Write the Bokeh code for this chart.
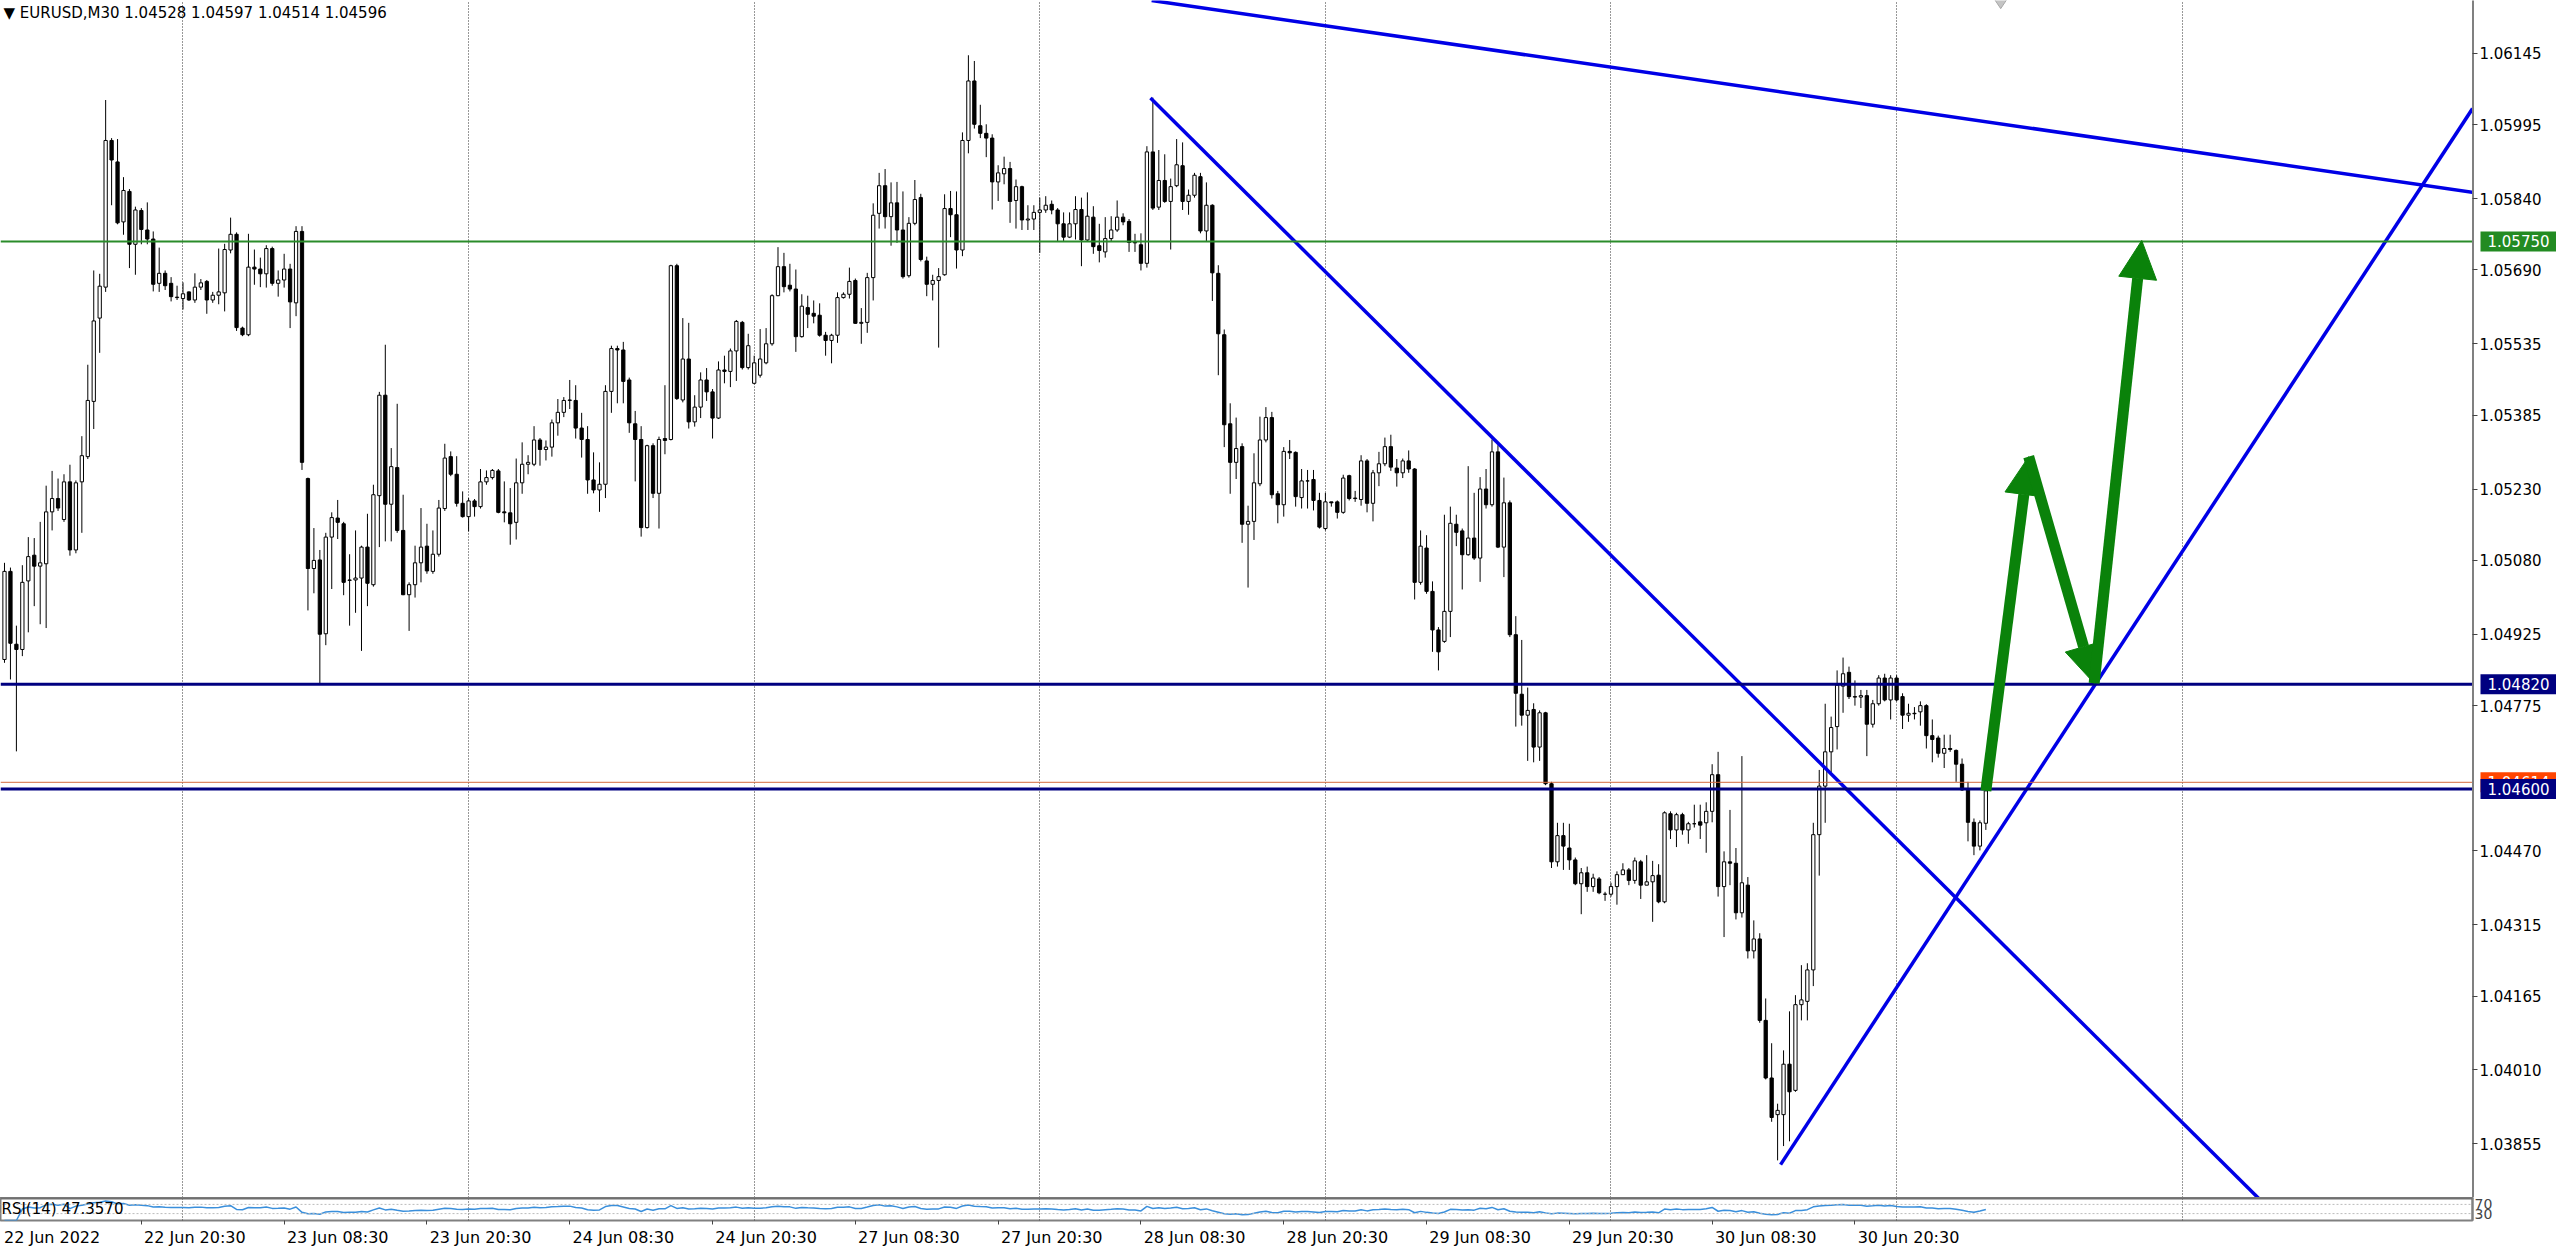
import numpy as np
import pandas as pd
from bokeh.plotting import figure
from bokeh.layouts import column, row
from bokeh.models import (Range1d, FixedTicker, PrintfTickFormatter, Span, Label,
                          Arrow, NormalHead, ColumnDataSource, Grid)
from bokeh.embed import file_html
from bokeh.resources import INLINE

# ---------------- data (EURUSD M30) ----------------
opens = [
1.04872,1.05057,1.04904,1.04893,1.05037,1.05091,1.05068,1.05073,1.05182,1.05210,
1.05166,1.05245,1.05102,1.05245,1.05298,1.05414,1.05589,1.05654,1.05962,1.05917,
1.05791,1.05855,1.05744,1.05815,1.05774,1.05755,1.05662,1.05683,1.05662,1.05633,
1.05630,1.05644,1.05627,1.05654,1.05666,1.05627,1.05637,1.05642,1.05732,1.05765,
1.05568,1.05554,1.05696,1.05692,1.05682,1.05735,1.05662,1.05669,1.05692,1.05621,
1.05771,1.05252,1.05063,1.05081,1.04926,1.05129,1.05169,1.05157,1.05038,1.05039,
1.05043,1.05108,1.05029,1.05216,1.05427,1.05198,1.05275,1.05143,1.05008,1.05029,
1.05075,1.05110,1.05057,1.05093,1.05189,1.05298,1.05261,1.05200,1.05172,1.05205,
1.05193,1.05245,1.05254,1.05268,1.05182,1.05180,1.05160,1.05243,1.05282,1.05282,
1.05333,1.05313,1.05318,1.05369,1.05391,1.05416,1.05416,1.05358,1.05334,1.05249,
1.05228,1.05240,1.05435,1.05525,1.05522,1.05459,1.05367,1.05334,1.05149,1.05321,
1.05221,1.05336,1.05334,1.05699,1.05417,1.05503,1.05371,1.05402,1.05459,1.05434,
1.05379,1.05480,1.05477,1.05520,1.05580,1.05485,1.05452,1.05469,1.05495,1.05535,
1.05636,1.05697,1.05658,1.05650,1.05550,1.05611,1.05599,1.05595,1.05553,1.05542,
1.05553,1.05632,1.05639,1.05668,1.05578,1.05580,1.05674,1.05809,1.05867,1.05802,
1.05831,1.05774,1.05678,1.05788,1.05842,1.05709,1.05660,1.05668,1.05680,1.05819,
1.05806,1.05732,1.05962,1.06087,1.05993,1.05977,1.05967,1.05875,1.05892,1.05903,
1.05836,1.05865,1.05795,1.05797,1.05811,1.05816,1.05828,1.05816,1.05787,1.05759,
1.05787,1.05817,1.05753,1.05801,1.05741,1.05728,1.05756,1.05774,1.05801,1.05792,
1.05748,1.05743,1.05704,1.05938,1.05822,1.05878,1.05834,1.05867,1.05909,1.05834,
1.05847,1.05886,1.05772,1.05826,1.05683,1.05554,1.05367,1.05286,1.05319,1.05156,
1.05162,1.05241,1.05333,1.05380,1.05220,1.05197,1.05309,1.05307,1.05212,1.05247,
1.05250,1.05206,1.05147,1.05203,1.05203,1.05181,1.05258,1.05210,1.05208,1.05289,
1.05200,1.05264,1.05283,1.05319,1.05274,1.05264,1.05289,1.05272,1.05034,1.05106,
1.05015,1.04934,1.04910,1.04973,1.05156,1.05142,1.05092,1.05127,1.05085,1.05230,
1.05197,1.05308,1.05108,1.05201,1.04924,1.04799,1.04755,1.04767,1.04688,1.04760,
1.04611,1.04447,1.04502,1.04476,1.04451,1.04401,1.04424,1.04395,1.04411,1.04379,
1.04379,1.04395,1.04420,1.04430,1.04408,1.04447,1.04398,1.04405,1.04419,1.04363,
1.04548,1.04514,1.04546,1.04514,1.04527,1.04531,1.04529,1.04553,1.04630,1.04395,
1.04447,1.04444,1.04340,1.04398,1.04260,1.04285,1.04114,1.03993,1.03916,1.03916,
1.04022,1.03967,1.04147,1.04154,1.04220,1.04504,1.04606,1.04678,1.04731,1.04816,
1.04845,1.04794,1.04793,1.04796,1.04736,1.04779,1.04833,1.04787,1.04833,1.04794,
1.04755,1.04759,1.04762,1.04775,1.04712,1.04707,1.04675,1.04685,1.04681,1.04652,
1.04601,1.04530,1.04480,1.04528]

highs = [
1.05075,1.05065,1.04943,1.05070,1.05129,1.05127,1.05161,1.05237,1.05268,1.05252,
1.05261,1.05281,1.05248,1.05341,1.05491,1.05689,1.05682,1.06047,1.05967,1.05965,
1.05885,1.05860,1.05823,1.05820,1.05832,1.05771,1.05737,1.05689,1.05675,1.05657,
1.05664,1.05645,1.05683,1.05671,1.05669,1.05644,1.05735,1.05745,1.05800,1.05769,
1.05571,1.05766,1.05733,1.05716,1.05742,1.05739,1.05689,1.05724,1.05703,1.05782,
1.05782,1.05254,1.05148,1.05102,1.05138,1.05181,1.05207,1.05161,1.05093,1.05143,
1.05111,1.05178,1.05239,1.05434,1.05533,1.05316,1.05409,1.05218,1.05034,1.05111,
1.05190,1.05157,1.05143,1.05207,1.05325,1.05309,1.05299,1.05225,1.05211,1.05209,
1.05272,1.05269,1.05272,1.05272,1.05246,1.05232,1.05294,1.05328,1.05301,1.05362,
1.05337,1.05332,1.05376,1.05419,1.05423,1.05459,1.05448,1.05390,1.05362,1.05307,
1.05286,1.05448,1.05531,1.05531,1.05539,1.05464,1.05394,1.05362,1.05323,1.05326,
1.05340,1.05448,1.05701,1.05703,1.05589,1.05579,1.05427,1.05475,1.05484,1.05440,
1.05498,1.05510,1.05525,1.05585,1.05583,1.05556,1.05510,1.05566,1.05568,1.05639,
1.05738,1.05726,1.05703,1.05691,1.05639,1.05636,1.05626,1.05620,1.05560,1.05556,
1.05643,1.05643,1.05695,1.05672,1.05610,1.05684,1.05830,1.05894,1.05902,1.05874,
1.05875,1.05855,1.05801,1.05879,1.05850,1.05718,1.05680,1.05694,1.05849,1.05856,
1.05855,1.05979,1.06141,1.06129,1.06037,1.05996,1.05975,1.05910,1.05928,1.05917,
1.05880,1.05867,1.05826,1.05826,1.05842,1.05845,1.05836,1.05820,1.05811,1.05811,
1.05845,1.05842,1.05853,1.05824,1.05787,1.05801,1.05803,1.05836,1.05809,1.05797,
1.05766,1.05767,1.05950,1.06052,1.05942,1.05933,1.05882,1.05965,1.05958,1.05859,
1.05894,1.05894,1.05874,1.05828,1.05700,1.05565,1.05410,1.05380,1.05326,1.05195,
1.05305,1.05382,1.05402,1.05392,1.05226,1.05318,1.05333,1.05309,1.05272,1.05270,
1.05270,1.05222,1.05222,1.05203,1.05206,1.05260,1.05260,1.05226,1.05301,1.05293,
1.05270,1.05308,1.05338,1.05344,1.05293,1.05294,1.05311,1.05274,1.05143,1.05133,
1.05036,1.04940,1.05176,1.05193,1.05176,1.05147,1.05278,1.05222,1.05255,1.05272,
1.05334,1.05322,1.05254,1.05206,1.04963,1.04913,1.04813,1.04780,1.04765,1.04762,
1.04615,1.04529,1.04529,1.04527,1.04456,1.04434,1.04437,1.04422,1.04415,1.04384,
1.04403,1.04427,1.04444,1.04434,1.04456,1.04451,1.04461,1.04449,1.04442,1.04553,
1.04553,1.04550,1.04550,1.04531,1.04567,1.04567,1.04572,1.04652,1.04678,1.04469,
1.04556,1.04476,1.04669,1.04415,1.04324,1.04297,1.04160,1.04066,1.03939,1.04051,
1.04133,1.04167,1.04230,1.04234,1.04529,1.04640,1.04779,1.04752,1.04849,1.04876,
1.04857,1.04828,1.04808,1.04808,1.04787,1.04839,1.04842,1.04839,1.04839,1.04801,
1.04779,1.04772,1.04784,1.04778,1.04746,1.04712,1.04714,1.04714,1.04683,1.04664,
1.04615,1.04538,1.04534,1.04597]

lows = [
1.04865,1.04830,1.04679,1.04879,1.04929,1.04984,1.04946,1.04938,1.05143,1.05184,
1.05161,1.05090,1.05095,1.05138,1.05293,1.05356,1.05516,1.05644,1.05826,1.05786,
1.05764,1.05694,1.05680,1.05744,1.05744,1.05645,1.05644,1.05648,1.05624,1.05627,
1.05607,1.05625,1.05621,1.05648,1.05598,1.05621,1.05618,1.05603,1.05725,1.05562,
1.05551,1.05551,1.05659,1.05654,1.05653,1.05657,1.05634,1.05653,1.05568,1.05593,
1.05270,1.04975,1.05011,1.04820,1.04902,1.05020,1.05125,1.05007,1.04943,1.04970,
1.04890,1.04984,1.05025,1.05108,1.05120,1.05120,1.05138,1.05007,1.04932,1.05002,
1.05034,1.05052,1.05052,1.05088,1.05184,1.05257,1.05193,1.05170,1.05141,1.05172,
1.05189,1.05239,1.05250,1.05179,1.05160,1.05113,1.05124,1.05220,1.05261,1.05278,
1.05279,1.05290,1.05298,1.05342,1.05381,1.05398,1.05336,1.05296,1.05220,1.05221,
1.05182,1.05211,1.05390,1.05410,1.05410,1.05348,1.05246,1.05130,1.05147,1.05211,
1.05147,1.05303,1.05332,1.05417,1.05412,1.05357,1.05361,1.05379,1.05415,1.05336,
1.05377,1.05452,1.05444,1.05457,1.05481,1.05481,1.05450,1.05464,1.05492,1.05531,
1.05635,1.05643,1.05645,1.05518,1.05548,1.05568,1.05578,1.05550,1.05510,1.05494,
1.05537,1.05630,1.05630,1.05577,1.05535,1.05558,1.05626,1.05777,1.05777,1.05741,
1.05747,1.05672,1.05674,1.05784,1.05708,1.05635,1.05626,1.05527,1.05678,1.05759,
1.05693,1.05719,1.05935,1.05987,1.05967,1.05927,1.05817,1.05835,1.05870,1.05789,
1.05777,1.05774,1.05774,1.05774,1.05726,1.05810,1.05807,1.05749,1.05751,1.05757,
1.05754,1.05698,1.05749,1.05724,1.05706,1.05716,1.05749,1.05770,1.05784,1.05728,
1.05728,1.05689,1.05695,1.05816,1.05816,1.05831,1.05733,1.05864,1.05816,1.05806,
1.05842,1.05767,1.05749,1.05625,1.05469,1.05318,1.05220,1.05251,1.05117,1.05023,
1.05123,1.05236,1.05328,1.05210,1.05158,1.05172,1.05293,1.05193,1.05189,1.05189,
1.05185,1.05147,1.05143,1.05193,1.05168,1.05178,1.05206,1.05203,1.05195,1.05181,
1.05162,1.05236,1.05278,1.05268,1.05235,1.05253,1.05264,1.04998,1.05029,1.05010,
1.04888,1.04849,1.04907,1.04919,1.05110,1.05019,1.05090,1.05081,1.05035,1.05189,
1.05193,1.05106,1.05045,1.04919,1.04731,1.04733,1.04659,1.04656,1.04659,1.04608,
1.04434,1.04437,1.04430,1.04430,1.04398,1.04337,1.04384,1.04384,1.04379,1.04365,
1.04374,1.04357,1.04420,1.04398,1.04401,1.04369,1.04398,1.04321,1.04360,1.04360,
1.04495,1.04478,1.04504,1.04485,1.04519,1.04495,1.04466,1.04530,1.04374,1.04289,
1.04398,1.04326,1.04330,1.04244,1.04244,1.04109,1.03990,1.03901,1.03820,1.03850,
1.03860,1.03964,1.04114,1.04114,1.04186,1.04418,1.04529,1.04635,1.04683,1.04760,
1.04789,1.04775,1.04770,1.04669,1.04729,1.04775,1.04784,1.04746,1.04784,1.04726,
1.04741,1.04746,1.04733,1.04685,1.04656,1.04666,1.04644,1.04678,1.04615,1.04596,
1.04490,1.04461,1.04471,1.04514]

closes = [
1.05057,1.04906,1.04893,1.05034,1.05088,1.05068,1.05075,1.05182,1.05210,1.05190,
1.05245,1.05102,1.05243,1.05300,1.05416,1.05583,1.05656,1.05962,1.05921,1.05789,
1.05857,1.05744,1.05816,1.05775,1.05755,1.05660,1.05683,1.05657,1.05634,1.05632,
1.05640,1.05627,1.05654,1.05663,1.05627,1.05637,1.05644,1.05733,1.05765,1.05569,
1.05554,1.05696,1.05692,1.05682,1.05735,1.05662,1.05669,1.05692,1.05623,1.05771,
1.05286,1.05063,1.05080,1.04925,1.05129,1.05170,1.05160,1.05034,1.05039,1.05043,
1.05108,1.05032,1.05218,1.05427,1.05198,1.05277,1.05143,1.05008,1.05029,1.05075,
1.05108,1.05058,1.05093,1.05190,1.05295,1.05261,1.05200,1.05172,1.05205,1.05193,
1.05245,1.05254,1.05269,1.05181,1.05180,1.05157,1.05243,1.05282,1.05286,1.05333,
1.05313,1.05318,1.05369,1.05391,1.05416,1.05417,1.05358,1.05334,1.05249,1.05228,
1.05240,1.05435,1.05525,1.05522,1.05456,1.05369,1.05334,1.05149,1.05321,1.05221,
1.05334,1.05332,1.05699,1.05420,1.05503,1.05371,1.05402,1.05459,1.05434,1.05379,
1.05480,1.05477,1.05520,1.05582,1.05485,1.05531,1.05495,1.05503,1.05535,1.05636,
1.05697,1.05655,1.05650,1.05550,1.05614,1.05597,1.05593,1.05553,1.05542,1.05553,
1.05632,1.05639,1.05666,1.05578,1.05580,1.05674,1.05805,1.05867,1.05802,1.05831,
1.05774,1.05676,1.05788,1.05838,1.05712,1.05660,1.05668,1.05676,1.05819,1.05806,
1.05732,1.05962,1.06087,1.05996,1.05977,1.05967,1.05875,1.05894,1.05903,1.05834,
1.05865,1.05795,1.05797,1.05811,1.05816,1.05826,1.05816,1.05787,1.05759,1.05787,
1.05817,1.05753,1.05803,1.05739,1.05731,1.05756,1.05774,1.05801,1.05791,1.05748,
1.05747,1.05704,1.05938,1.05820,1.05878,1.05834,1.05865,1.05911,1.05834,1.05847,
1.05889,1.05772,1.05826,1.05684,1.05556,1.05365,1.05286,1.05315,1.05156,1.05162,
1.05243,1.05333,1.05380,1.05218,1.05197,1.05309,1.05306,1.05214,1.05247,1.05247,
1.05206,1.05150,1.05203,1.05201,1.05181,1.05253,1.05210,1.05211,1.05289,1.05200,
1.05264,1.05283,1.05319,1.05276,1.05264,1.05289,1.05272,1.05034,1.05110,1.05015,
1.04934,1.04888,1.04973,1.05158,1.05139,1.05092,1.05127,1.05085,1.05230,1.05197,
1.05308,1.05108,1.05201,1.04924,1.04801,1.04755,1.04765,1.04688,1.04760,1.04611,
1.04447,1.04502,1.04480,1.04451,1.04401,1.04424,1.04395,1.04413,1.04382,1.04379,
1.04395,1.04420,1.04430,1.04408,1.04449,1.04398,1.04405,1.04418,1.04363,1.04550,
1.04514,1.04546,1.04514,1.04527,1.04527,1.04524,1.04553,1.04630,1.04395,1.04447,
1.04444,1.04340,1.04403,1.04260,1.04285,1.04114,1.03993,1.03910,1.03925,1.04022,
1.03964,1.04147,1.04157,1.04220,1.04504,1.04606,1.04678,1.04729,1.04818,1.04842,
1.04794,1.04793,1.04796,1.04736,1.04779,1.04833,1.04787,1.04833,1.04787,1.04755,
1.04759,1.04758,1.04775,1.04712,1.04704,1.04675,1.04685,1.04683,1.04652,1.04598,
1.04530,1.04480,1.04529,1.04596]

price_ticks = [1.06145, 1.05995, 1.05840, 1.05690, 1.05535, 1.05385, 1.05230, 1.05080,
               1.04925, 1.04775, 1.04470, 1.04315, 1.04165, 1.04010, 1.03855]

# bar index of each date label's tick, and the label text
label_bars = [-1, 23, 47, 71, 95, 119, 143, 167, 191, 215, 239, 263, 287, 311]
date_labels = ["22 Jun 2022", "22 Jun 20:30", "23 Jun 08:30", "23 Jun 20:30", "24 Jun 08:30",
               "24 Jun 20:30", "27 Jun 08:30", "27 Jun 20:30", "28 Jun 08:30", "28 Jun 20:30",
               "29 Jun 08:30", "29 Jun 20:30", "30 Jun 08:30", "30 Jun 20:30"]
midnight_bars = [30, 78, 126, 174, 222, 270, 318, 366]

# horizontal levels
green_level = 1.05750
navy_levels = [1.04820, 1.04600]
ask_level = 1.04614

# trend lines (bar index, price)
trend_x = [[192.8, 414.8], [192.6, 392.0], [298.5, 414.8]]
trend_y = [[1.06256, 1.05853], [1.06051, 1.03577], [1.03811, 1.06029]]

# projected path (green arrows)
path_x = [333.0, 340.2, 351.2, 359.2]
path_y = [1.04596, 1.05298, 1.04822, 1.05752]

# grey object at the top edge
marker_x = [335.5]
marker_y = [1.06262]

rsi_levels = [70, 30]

# ---------------- derived ----------------
o = np.array(opens); h = np.array(highs); l = np.array(lows); c = np.array(closes)
bars = np.arange(len(c))
src = ColumnDataSource(dict(x=bars, h=h, l=l,
                            top=np.maximum(o, c), bottom=np.minimum(o, c),
                            fill=np.where(c >= o, "white", "black")))

cs = pd.Series(c)
d = cs.diff().fillna(0.0)
gain = d.clip(lower=0).ewm(alpha=1/14, adjust=False).mean()
loss = (-d).clip(lower=0).ewm(alpha=1/14, adjust=False).mean()
rsi = (100 - 100 / (1 + gain / loss.replace(0, np.nan))).bfill().fillna(50).values

FONT = "DejaVu Sans"
X0, X1 = -0.672, 414.79
Y0, Y1 = 1.03742, 1.06256
AXIS_GRAY = "#808080"
BLUE = "#0000E6"
NAVY = "#000080"
GREEN_LINE = "#2A8C2A"
GREEN_ARROW = "#0A820A"
GRID_COLOR = "#303030"
MAIN_W = 2472
MAIN_H = 1197
STRIP_W = 84
RSI_H = 52

# ---------------- main price pane ----------------
p = figure(width=MAIN_W, height=MAIN_H, x_range=Range1d(X0, X1), y_range=Range1d(Y0, Y1),
           output_backend="svg", toolbar_location=None,
           x_axis_location=None, y_axis_location=None,
           min_border_left=0, min_border_top=0, min_border_bottom=0, min_border_right=0)
p.outline_line_color = None
p.background_fill_color = "white"
p.border_fill_color = "white"
for g in list(p.xgrid) + list(p.ygrid):
    g.visible = False
p.add_layout(Grid(dimension=0, ticker=FixedTicker(ticks=midnight_bars),
                  grid_line_color=GRID_COLOR, grid_line_dash="1 2", grid_line_width=1))

# level lines
p.add_layout(Span(location=ask_level, dimension="width", line_color="#D2693C", line_width=1))
p.add_layout(Span(location=green_level, dimension="width", line_color=GREEN_LINE, line_width=2))
for lv in navy_levels:
    p.add_layout(Span(location=lv, dimension="width", line_color=NAVY, line_width=3))

# candles
p.segment(x0="x", y0="l", x1="x", y1="h", source=src, line_color="black", line_width=1)
p.vbar(x="x", width=0.55, top="top", bottom="bottom", source=src,
       fill_color="fill", line_color="black", line_width=1)

# trend lines
p.multi_line(trend_x, trend_y, line_color=BLUE, line_width=3.5)

# grey object at top edge
p.scatter(marker_x, marker_y, marker="diamond", size=22, fill_color="#C4C4C4", line_color="#A8A8A8")

# green projection arrows
for i in range(len(path_x) - 1):
    p.add_layout(Arrow(x_start=path_x[i], y_start=path_y[i], x_end=path_x[i + 1], y_end=path_y[i + 1],
                       line_color=GREEN_ARROW, line_width=11,
                       end=NormalHead(size=38, fill_color=GREEN_ARROW, line_color=GREEN_ARROW)))

p.add_layout(Label(x=X0, y=Y1, text="\u25BC EURUSD,M30  1.04528 1.04597 1.04514 1.04596",
                   text_font=FONT, text_font_size="15px", text_color="black",
                   text_baseline="top", text_align="left", x_offset=3, y_offset=-3))

# ---------------- price scale strip (axis + price tags) ----------------
t = figure(width=STRIP_W, height=MAIN_H, x_range=Range1d(0, 1), y_range=p.y_range,
           output_backend="svg", toolbar_location=None,
           x_axis_location=None, y_axis_location="left",
           min_border_left=0, min_border_top=0, min_border_bottom=0, min_border_right=0)
t.outline_line_color = None
t.background_fill_color = "white"
t.border_fill_color = "white"
for g in list(t.xgrid) + list(t.ygrid):
    g.visible = False
tax = t.yaxis[0]
tax.ticker = FixedTicker(ticks=price_ticks)
tax.formatter = PrintfTickFormatter(format="%.5f")
tax.axis_line_color = AXIS_GRAY
tax.axis_line_width = 3
tax.major_tick_out = 0
tax.major_tick_in = 5
tax.minor_tick_out = 0
tax.minor_tick_in = 0
tax.major_tick_line_color = "#444444"
tax.major_label_text_font = FONT
tax.major_label_text_font_size = "15px"
tax.major_label_text_color = "black"
tax.major_label_standoff = -69

def tag(y, txt, bg):
    t.add_layout(Label(x=0, y=y, text=txt, text_color="white", text_font=FONT,
                       text_font_size="15px", text_baseline="middle", text_align="left",
                       x_offset=8, background_fill_color=bg, padding=(7, 4)))

tag(ask_level, "1.04614", "#FF4500")
tag(green_level, "1.05750", "#228B22")
tag(navy_levels[0], "1.04820", NAVY)
tag(navy_levels[1], "1.04600", NAVY)

# ---------------- RSI pane ----------------
r = figure(width=MAIN_W + STRIP_W, height=RSI_H, x_range=p.x_range, y_range=Range1d(0, 100),
           output_backend="svg", toolbar_location=None,
           x_axis_location="below", y_axis_location="right",
           min_border_left=0, min_border_top=0, min_border_bottom=0, min_border_right=STRIP_W)
r.outline_line_color = AXIS_GRAY
r.outline_line_width = 2
r.background_fill_color = "white"
r.border_fill_color = "white"
r.xgrid.visible = False
r.ygrid.visible = False
r.add_layout(Grid(dimension=0, ticker=FixedTicker(ticks=midnight_bars),
                  grid_line_color=GRID_COLOR, grid_line_dash="1 2", grid_line_width=1))
for lv in rsi_levels:
    r.add_layout(Span(location=lv, dimension="width", line_color="#BBBBBB",
                      line_width=1, line_dash="2 2"))
r.add_layout(Span(location=100, dimension="width", line_color="#707070", line_width=4))
r.line(bars, rsi, line_color="#3A8FDB", line_width=1.5)
r.add_layout(Label(x=X0, y=50, text="RSI(14) 47.3570", text_font=FONT, text_font_size="15px",
                   text_color="black", text_baseline="middle", text_align="left", x_offset=1))

xax = r.xaxis[0]
centers = [b + 9 for b in label_bars]
xax.ticker = FixedTicker(ticks=centers, minor_ticks=label_bars)
xax.major_label_overrides = {cc: tx for cc, tx in zip(centers, date_labels)}
xax.axis_line_color = None
xax.major_tick_in = 0
xax.major_tick_out = 0
xax.minor_tick_in = 0
xax.minor_tick_out = 4
xax.minor_tick_line_color = "#444444"
xax.major_label_text_font = FONT
xax.major_label_text_font_size = "16px"
xax.major_label_text_color = "black"
xax.major_label_standoff = 3

ryax = r.yaxis[0]
ryax.ticker = FixedTicker(ticks=rsi_levels)
ryax.axis_line_color = AXIS_GRAY
ryax.axis_line_width = 2
ryax.major_tick_in = 0
ryax.major_tick_out = 0
ryax.minor_tick_out = 0
ryax.minor_tick_in = 0
ryax.major_label_text_font = FONT
ryax.major_label_text_font_size = "14px"
ryax.major_label_standoff = 2

layout = column(row(p, t, spacing=0), r, spacing=0)
open("out.html", "w").write(file_html(layout, INLINE))
